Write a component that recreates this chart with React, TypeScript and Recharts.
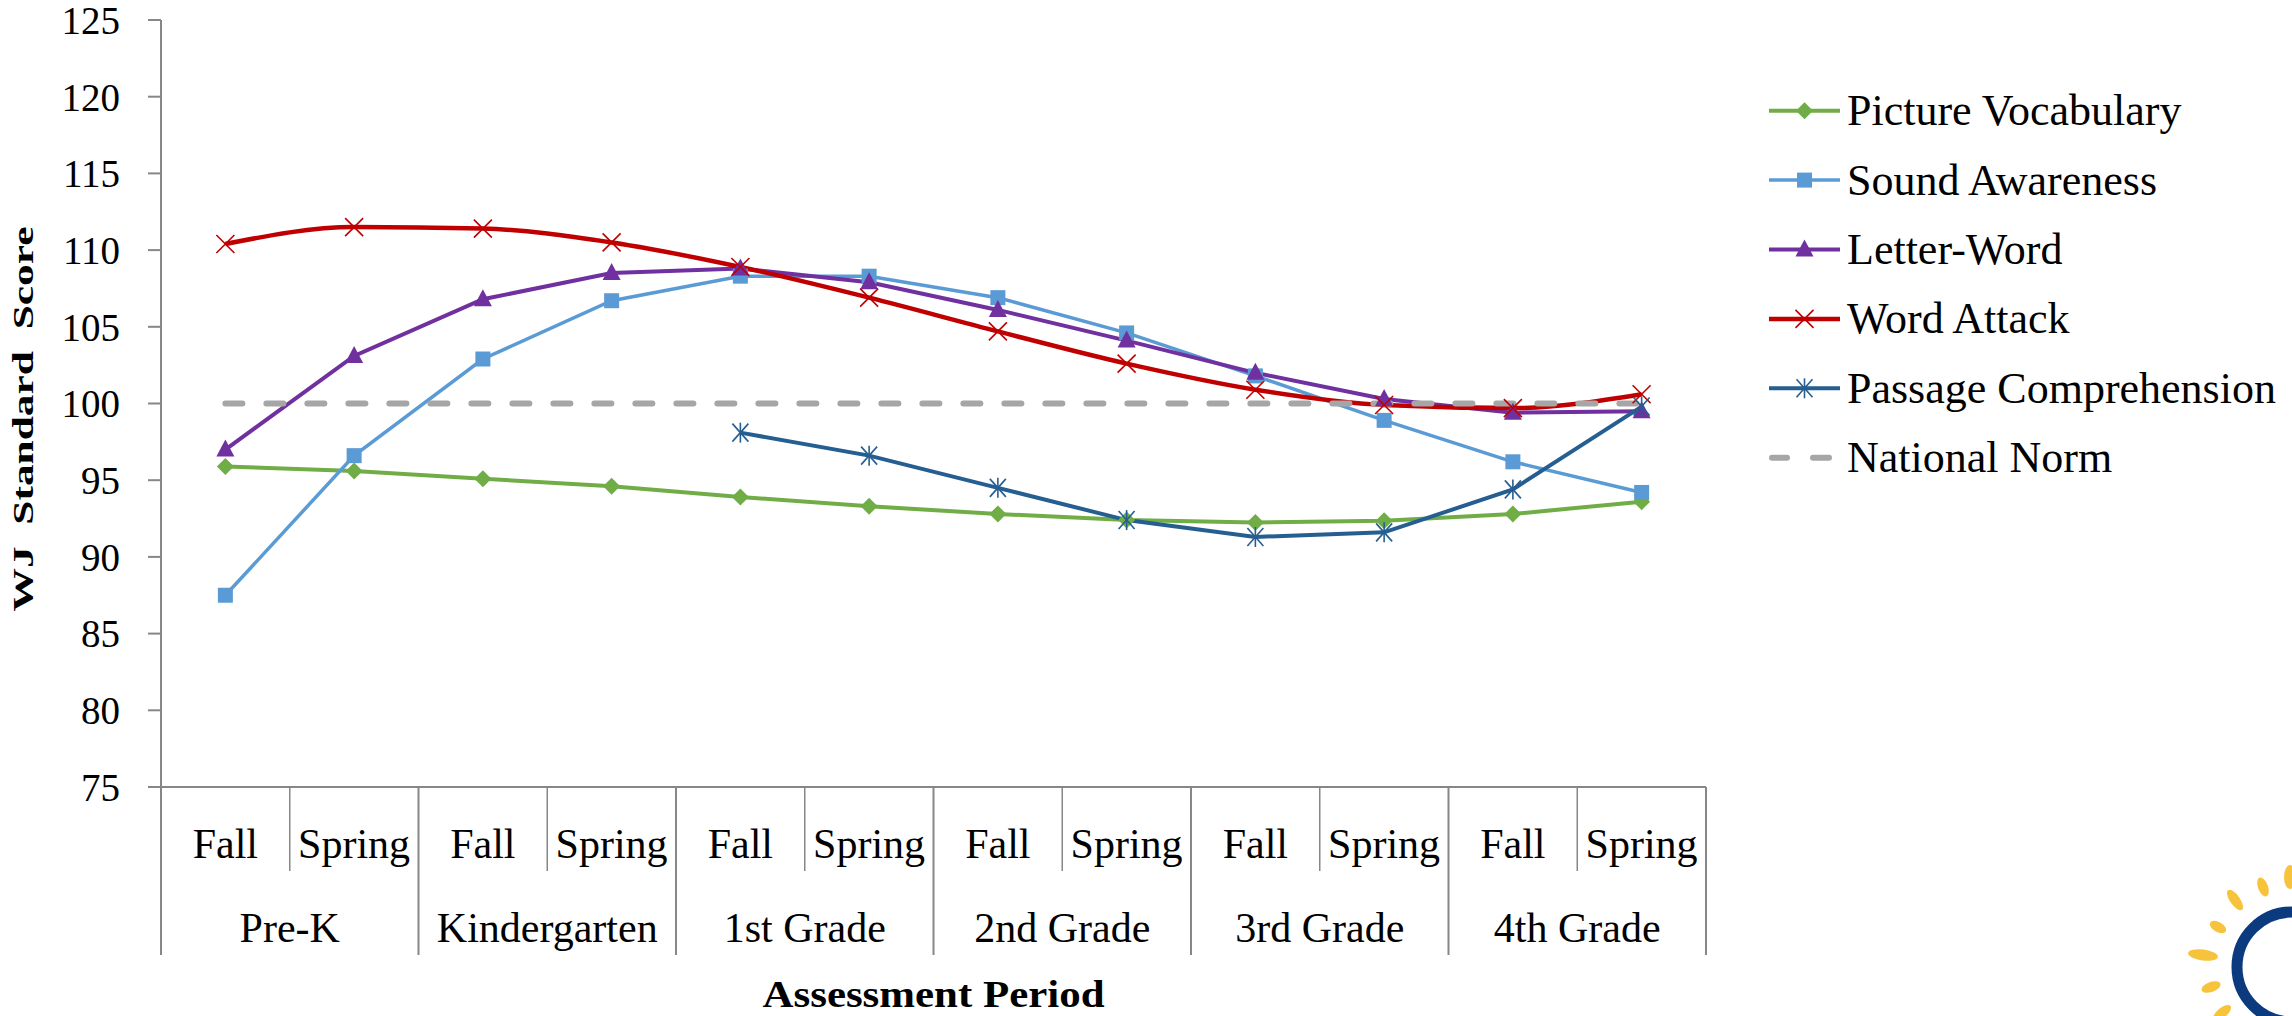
import { LineChart, Line, XAxis, YAxis, Label } from "recharts";

// Assessment periods (x axis, two tiers)
const SEASONS = ["Fall", "Spring", "Fall", "Spring", "Fall", "Spring", "Fall", "Spring", "Fall", "Spring", "Fall", "Spring"];
const GRADES = ["Pre-K", "Kindergarten", "1st Grade", "2nd Grade", "3rd Grade", "4th Grade"];

// WJ standard scores
const PICTURE_VOCABULARY = [95.9, 95.6, 95.1, 94.6, 93.9, 93.3, 92.8, 92.4, 92.25, 92.35, 92.8, 93.6];
const SOUND_AWARENESS = [87.5, 96.6, 102.9, 106.7, 108.3, 108.3, 106.9, 104.6, 101.8, 98.9, 96.2, 94.2];
const LETTER_WORD = [97.0, 103.1, 106.8, 108.5, 108.8, 107.9, 106.1, 104.1, 102.0, 100.3, 99.4, 99.5];
const WORD_ATTACK = [110.4, 111.5, 111.4, 110.5, 108.9, 106.9, 104.7, 102.6, 100.9, 99.9, 99.7, 100.6];
const PASSAGE_COMPREHENSION = [null, null, null, null, 98.1, 96.6, 94.5, 92.4, 91.3, 91.6, 94.4, 99.8];
const NATIONAL_NORM = [100, 100, 100, 100, 100, 100, 100, 100, 100, 100, 100, 100];

const Y_TICKS = [75, 80, 85, 90, 95, 100, 105, 110, 115, 120, 125];

const FONT = '"Liberation Serif", "Times New Roman", serif';
const AXIS_GRAY = "#878787";

const CHART_W = 2292;
const CHART_H = 1016;
const MARGIN = { top: 20, right: 586, bottom: 0, left: 0 };
const Y_AXIS_W = 161;
const PLOT_H = 767;
const X_AXIS_H = CHART_H - MARGIN.top - MARGIN.bottom - PLOT_H;
const PLOT_W = CHART_W - MARGIN.left - MARGIN.right - Y_AXIS_W;
const BAND = PLOT_W / SEASONS.length;

type Shape = "diamond" | "square" | "triangle" | "x" | "star" | "dash";

const SERIES: { key: string; name: string; color: string; shape: Shape; width: number; smooth?: boolean }[] = [
  { key: "pv", name: "Picture Vocabulary", color: "#70AD47", shape: "diamond", width: 4 },
  { key: "sa", name: "Sound Awareness", color: "#5B9BD5", shape: "square", width: 3.5 },
  { key: "lw", name: "Letter-Word", color: "#7030A0", shape: "triangle", width: 4 },
  { key: "wa", name: "Word Attack", color: "#C00000", shape: "x", width: 4.5, smooth: true },
  { key: "pc", name: "Passage Comprehension", color: "#255E91", shape: "star", width: 4 },
  { key: "nn", name: "National Norm", color: "#A6A6A6", shape: "dash", width: 6 },
];

const data = SEASONS.map((season, i) => ({
  period: season,
  pv: PICTURE_VOCABULARY[i],
  sa: SOUND_AWARENESS[i],
  lw: LETTER_WORD[i],
  wa: WORD_ATTACK[i],
  pc: PASSAGE_COMPREHENSION[i],
  nn: NATIONAL_NORM[i],
}));

function marker(shape: Shape, cx: number, cy: number, color: string) {
  switch (shape) {
    case "diamond":
      return <polygon points={`${cx},${cy - 8.5} ${cx + 8.5},${cy} ${cx},${cy + 8.5} ${cx - 8.5},${cy}`} fill={color} />;
    case "square":
      return <rect x={cx - 7.5} y={cy - 7.5} width={15} height={15} fill={color} />;
    case "triangle":
      return <polygon points={`${cx},${cy - 10} ${cx + 9},${cy + 7} ${cx - 9},${cy + 7}`} fill={color} />;
    case "x":
      return (
        <g stroke={color} strokeWidth={1.6}>
          <line x1={cx - 9} y1={cy - 9} x2={cx + 9} y2={cy + 9} />
          <line x1={cx - 9} y1={cy + 9} x2={cx + 9} y2={cy - 9} />
        </g>
      );
    case "star":
      return (
        <g stroke={color} strokeWidth={1.6}>
          <line x1={cx - 8} y1={cy - 9} x2={cx + 8} y2={cy + 9} />
          <line x1={cx - 8} y1={cy + 9} x2={cx + 8} y2={cy - 9} />
          <line x1={cx} y1={cy - 10} x2={cx} y2={cy + 10} />
        </g>
      );
    default:
      return null;
  }
}

const dotFor = (shape: Shape, color: string) => (props: any) => {
  const { cx, cy, index } = props;
  if (cx == null || cy == null || Number.isNaN(cy)) return <g key={`e-${index}`} />;
  return <g key={`d-${index}`}>{marker(shape, cx, cy, color)}</g>;
};

function PeriodTick(props: any) {
  const { x, y, payload } = props;
  const i = payload.index;
  const odd = i % 2 === 1;
  return (
    <g>
      <text x={x} y={y + 71} textAnchor="middle" fontSize={42} fontFamily={FONT} fill="#000">
        {SEASONS[i]}
      </text>
      {i === 0 && <line x1={x - BAND / 2} y1={y} x2={x - BAND / 2} y2={y + 168} stroke={AXIS_GRAY} strokeWidth={2} />}
      <line
        x1={x + BAND / 2}
        y1={y}
        x2={x + BAND / 2}
        y2={y + (odd ? 168 : 84)}
        stroke={AXIS_GRAY}
        strokeWidth={odd ? 2 : 1.5}
      />
      {odd && (
        <text x={x - BAND / 2} y={y + 155} textAnchor="middle" fontSize={42} fontFamily={FONT} fill="#000">
          {GRADES[(i - 1) / 2]}
        </text>
      )}
    </g>
  );
}

function LegendBox() {
  return (
    <svg width={540} height={420} style={{ position: "absolute", left: 1760, top: 70 }}>
      {SERIES.map((s, i) => {
        const cy = 40.7 + i * 69.4;
        return (
          <g key={s.key}>
            {s.shape === "dash" ? (
              <g stroke={s.color} strokeWidth={6} strokeLinecap="round">
                <line x1={12} y1={cy} x2={27} y2={cy} />
                <line x1={53} y1={cy} x2={69} y2={cy} />
              </g>
            ) : (
              <>
                <line x1={9} y1={cy} x2={80} y2={cy} stroke={s.color} strokeWidth={s.width} />
                {marker(s.shape, 44.5, cy, s.color)}
              </>
            )}
            <text x={87} y={cy + 14.5} fontSize={44} fontFamily={FONT} fill="#000">
              {s.name}
            </text>
          </g>
        );
      })}
    </svg>
  );
}

function Logo() {
  const rays = [
    [2235, 900, 12, 5, 55],
    [2263, 887, 10, 5, 70],
    [2218, 927, 9, 5, 30],
    [2203, 955, 15, 5.5, 8],
    [2211, 987, 10, 5, -20],
    [2222, 1013, 11, 5, -40],
    [2290, 877, 12, 6, 90],
  ];
  return (
    <svg width={CHART_W} height={CHART_H} style={{ position: "absolute", left: 0, top: 0, pointerEvents: "none" }}>
      {rays.map(([x, y, rx, ry, a], i) => (
        <ellipse key={i} cx={x} cy={y} rx={rx} ry={ry} fill="#F7C33C" transform={`rotate(${a} ${x} ${y})`} />
      ))}
      <circle cx={2292} cy={967} r={55} fill="none" stroke="#0B3A7E" strokeWidth={11} />
    </svg>
  );
}

export default function App() {
  return (
    <div style={{ position: "absolute", left: 0, top: 0, width: CHART_W, height: CHART_H, background: "#fff" }}>
      <LineChart width={CHART_W} height={CHART_H} data={data} margin={MARGIN}>
        <XAxis
          dataKey="period"
          interval={0}
          height={X_AXIS_H}
          padding={{ left: BAND / 2, right: BAND / 2 }}
          tickSize={0}
          tickMargin={0}
          tickLine={false}
          axisLine={{ stroke: AXIS_GRAY, strokeWidth: 2 }}
          tick={(p: any) => <PeriodTick {...p} />}
        >
          <Label
            content={() => (
              <text
                x={MARGIN.left + Y_AXIS_W + PLOT_W / 2}
                y={1007}
                textAnchor="middle"
                fontSize={38}
                fontWeight="bold"
                fontFamily={FONT}
                textLength={342}
                lengthAdjust="spacingAndGlyphs"
              >
                Assessment Period
              </text>
            )}
          />
        </XAxis>
        <YAxis
          width={Y_AXIS_W}
          domain={[75, 125]}
          ticks={Y_TICKS}
          interval={0}
          tickSize={13}
          tickMargin={28}
          tickLine={{ stroke: AXIS_GRAY, strokeWidth: 2 }}
          axisLine={{ stroke: AXIS_GRAY, strokeWidth: 2 }}
          tick={{ fill: "#000", fontSize: 39, fontFamily: FONT }}
        >
          <Label
            content={() => (
              <text
                transform="translate(33, 419) rotate(-90)"
                textAnchor="middle"
                fontSize={29}
                fontWeight="bold"
                fontFamily={FONT}
                textLength={385}
                lengthAdjust="spacingAndGlyphs"
              >
                {"WJ\u00a0\u00a0Standard\u00a0\u00a0Score"}
              </text>
            )}
          />
        </YAxis>
        {SERIES.map((s) =>
          s.shape === "dash" ? (
            <Line
              key={s.key}
              dataKey={s.key}
              name={s.name}
              type="linear"
              stroke={s.color}
              strokeWidth={s.width}
              strokeDasharray="17 24"
              strokeLinecap="round"
              dot={false}
              activeDot={false}
              isAnimationActive={false}
            />
          ) : (
            <Line
              key={s.key}
              dataKey={s.key}
              name={s.name}
              type={s.smooth ? "monotone" : "linear"}
              stroke={s.color}
              strokeWidth={s.width}
              dot={dotFor(s.shape, s.color)}
              activeDot={false}
              isAnimationActive={false}
            />
          )
        )}
      </LineChart>
      <LegendBox />
      <Logo />
    </div>
  );
}
